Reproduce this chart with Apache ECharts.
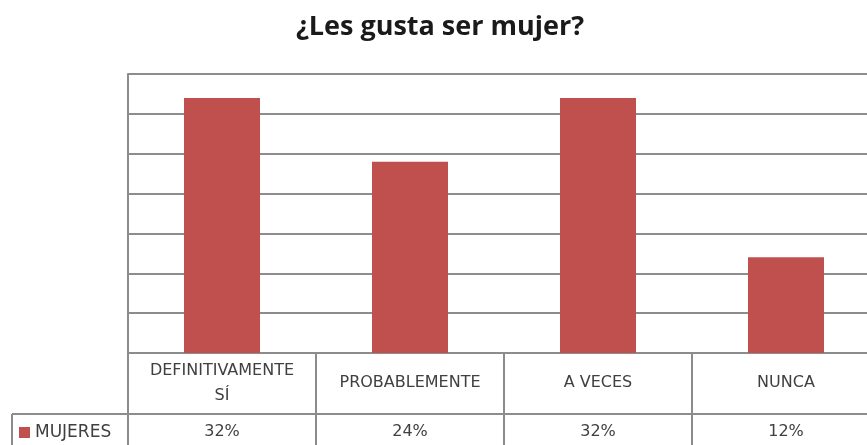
<!DOCTYPE html>
<html>
<head>
<meta charset="utf-8">
<script src="https://cdn.jsdelivr.net/npm/echarts@6/dist/echarts.min.js"></script>
<style>
  html, body { margin: 0; padding: 0; background: #fff; overflow: hidden; }
  /* el gráfico original queda cortado por la derecha */
  #main { width: 880px; height: 445px; }
</style>
</head>
<body>
<div id="main"></div>
<script>
var categories = ['DEFINITIVAMENTE\nSÍ', 'PROBABLEMENTE', 'A VECES', 'NUNCA'];
var values = [32, 24, 32, 12];
var seriesName = 'MUJERES';

(function() {
    var chart = echarts.init(document.getElementById('main'));

    var gridLeft = 128, gridTop = 74, gridRight = 0, gridBottom = 92;
    var lineColor = '#8c8c8c';
    var textColor = '#404040';
    var font = 'DejaVu Sans';
    var rowY = 414; // línea entre fila de categorías y fila de valores

    var option = {
        title: {
            text: '¿Les gusta ser mujer?',
            left: 'center',
            top: 9,
            textStyle: { fontFamily: 'Open Sans', fontWeight: 'bold', fontSize: 27, color: '#1a1a1a' }
        },
        legend: {
            data: [seriesName],
            left: 19,
            top: 424,
            padding: 0,
            icon: 'rect',
            itemWidth: 11,
            itemHeight: 11,
            textStyle: { fontFamily: font, fontSize: 17, color: textColor }
        },
        grid: { left: gridLeft, top: gridTop, right: gridRight, bottom: gridBottom },
        xAxis: [{
            type: 'category',
            data: categories,
            axisLine: { show: true, lineStyle: { color: lineColor, width: 2 } },
            axisTick: { show: true, length: 92, lineStyle: { color: lineColor, width: 2 } },
            axisLabel: {
                interval: 0, margin: 30, verticalAlign: 'middle', lineHeight: 25,
                fontFamily: font, fontSize: 16, color: textColor
            }
        }, {
            type: 'category',
            position: 'bottom',
            data: categories,
            axisLine: { show: false },
            axisTick: { show: false },
            axisLabel: {
                interval: 0, margin: 79, verticalAlign: 'middle',
                fontFamily: font, fontSize: 16, color: textColor,
                formatter: function(v, i) { return values[i] + '%'; }
            }
        }],
        yAxis: {
            type: 'value',
            min: 0,
            max: 35,
            interval: 5,
            axisLabel: { show: false },
            axisTick: { show: false },
            axisLine: { show: true, lineStyle: { color: lineColor, width: 2 } },
            splitLine: { lineStyle: { color: lineColor, width: 2 } }
        },
        graphic: [{
            type: 'line',
            shape: { x1: 12, y1: rowY, x2: 880, y2: rowY },
            style: { stroke: lineColor, lineWidth: 2 }
        }, {
            type: 'line',
            shape: { x1: 12, y1: rowY, x2: 12, y2: 445 },
            style: { stroke: lineColor, lineWidth: 2 }
        }],
        series: [{
            name: seriesName,
            type: 'bar',
            data: values,
            barWidth: 76,
            itemStyle: { color: '#c0504d' }
        }]
    };

    chart.setOption(option);
})();
</script>
</body>
</html>
